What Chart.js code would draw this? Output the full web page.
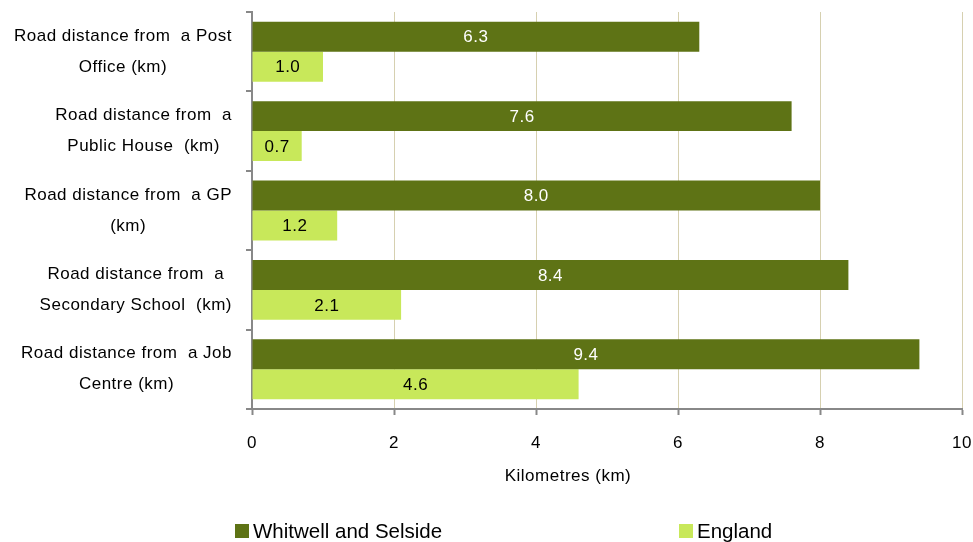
<!DOCTYPE html>
<html><head><meta charset="utf-8">
<script src="https://cdn.jsdelivr.net/npm/chart.js@4.4.1/dist/chart.umd.min.js"></script>
<style>
html,body{margin:0;padding:0;background:#fff;}
#wrap{position:relative;width:973px;height:542px;}
#c{position:absolute;left:0;top:0;}
.leg{position:absolute;top:521px;height:20px;line-height:20px;font-family:"Liberation Sans",Arial,sans-serif;font-size:20.5px;color:#000;display:flex;align-items:center;white-space:nowrap;}
.leg span.box{display:inline-block;width:14px;height:14px;margin-right:4px;}
</style></head>
<body><div id="wrap"><canvas id="c" width="973" height="542"></canvas>
<div class="leg" style="left:235px"><span class="box" style="background:#5E7315"></span><span id="l1"></span></div>
<div class="leg" style="left:679px"><span class="box" style="background:#C8E85A"></span><span id="l2"></span></div>
</div>
<script>
const categories = [
  ["Road distance from  a Post", "Office (km)"],
  ["Road distance from  a", "Public House  (km)"],
  ["Road distance from  a GP", "(km)"],
  ["Road distance from  a", "Secondary School  (km)"],
  ["Road distance from  a Job", "Centre (km)"]
];
const seriesNames = ["Whitwell and Selside", "England"];
const whitwell = [6.3, 7.6, 8.0, 8.4, 9.4];
const england = [1.0, 0.7, 1.2, 2.1, 4.6];
const xTicks = [0, 2, 4, 6, 8, 10];
const xTitle = "Kilometres (km)";
const colors = ["#5E7315", "#C8E85A"];
const labelColors = ["#ffffff", "#000000"];

document.getElementById('l1').textContent = seriesNames[0];
document.getElementById('l2').textContent = seriesNames[1];

const FONT = '"Liberation Sans", Arial, sans-serif';

const spacingPlugin = {
  id: 'spacing',
  beforeLayout(chart) { chart.ctx.letterSpacing = '0.5px'; },
  beforeDraw(chart) { chart.ctx.letterSpacing = '0.5px'; }
};

const yLabelPlugin = {
  id: 'yLabels',
  afterDraw(chart) {
    const ctx = chart.ctx, sc = chart.scales.y, xs = chart.scales.x;
    ctx.save();
    ctx.letterSpacing = '0.5px';
    ctx.font = '17px ' + FONT;
    ctx.fillStyle = '#000';
    ctx.textAlign = 'center';
    ctx.textBaseline = 'middle';
    const right = sc.right - 20;
    categories.forEach((lines, i) => {
      const y = sc.getPixelForValue(i);
      const w = Math.max(...lines.map(l => ctx.measureText(l).width));
      const cx = right - w / 2;
      const lh = 31;
      lines.forEach((l, j) => {
        ctx.fillText(l, cx, y + (j - (lines.length - 1) / 2) * lh);
      });
    });
    ctx.fillText(xTitle, xs.getPixelForValue(4.45), xs.top + 67);
    ctx.restore();
  }
};

const valuePlugin = {
  id: 'values',
  afterDatasetsDraw(chart) {
    const ctx = chart.ctx;
    ctx.save();
    ctx.letterSpacing = '0.5px';
    ctx.font = '17px ' + FONT;
    ctx.textAlign = 'center';
    ctx.textBaseline = 'middle';
    chart.data.datasets.forEach((ds, di) => {
      const meta = chart.getDatasetMeta(di);
      ctx.fillStyle = labelColors[di];
      meta.data.forEach((bar, i) => {
        const x = (bar.x + bar.base) / 2;
        ctx.fillText(ds.data[i].toFixed(1), x, bar.y + 1);
      });
    });
    ctx.restore();
  }
};

new Chart(document.getElementById('c'), {
  type: 'bar',
  data: {
    labels: categories,
    datasets: [
      { label: seriesNames[0], data: whitwell, backgroundColor: colors[0], borderWidth: 0 },
      { label: seriesNames[1], data: england, backgroundColor: colors[1], borderWidth: 0 }
    ]
  },
  options: {
    indexAxis: 'y',
    responsive: false,
    animation: false,
    layout: { padding: { top: 12, right: 11, left: 0, bottom: 0 } },
    plugins: { legend: { display: false }, tooltip: { enabled: false } },
    datasets: { bar: { categoryPercentage: 0.755, barPercentage: 1.0 } },
    scales: {
      x: {
        min: 0, max: 10,
        afterBuildTicks(scale) { scale.ticks = xTicks.map(v => ({ value: v })); },
        afterFit(scale) { scale.height = 133; scale.paddingRight = 0; scale.paddingLeft = 0; },
        ticks: { font: { size: 17, family: FONT }, color: '#000', padding: 18 },
        grid: {
          color: '#d6d0b0', borderDash: [2, 3], lineWidth: 1,
          drawTicks: true, tickLength: 6, tickColor: '#888', tickBorderDash: [], tickWidth: 2
        },
        border: { display: true, color: '#888', width: 2 },
        title: { display: false }
      },
      y: {
        afterFit(scale) { scale.width = 252; },
        ticks: { display: false },
        grid: { display: true, offset: true, drawOnChartArea: false, drawTicks: true, tickLength: 6, color: '#888', lineWidth: 2 },
        border: { display: true, color: '#888', width: 2 }
      }
    }
  },
  plugins: [spacingPlugin, yLabelPlugin, valuePlugin]
});
</script>
</body></html>
